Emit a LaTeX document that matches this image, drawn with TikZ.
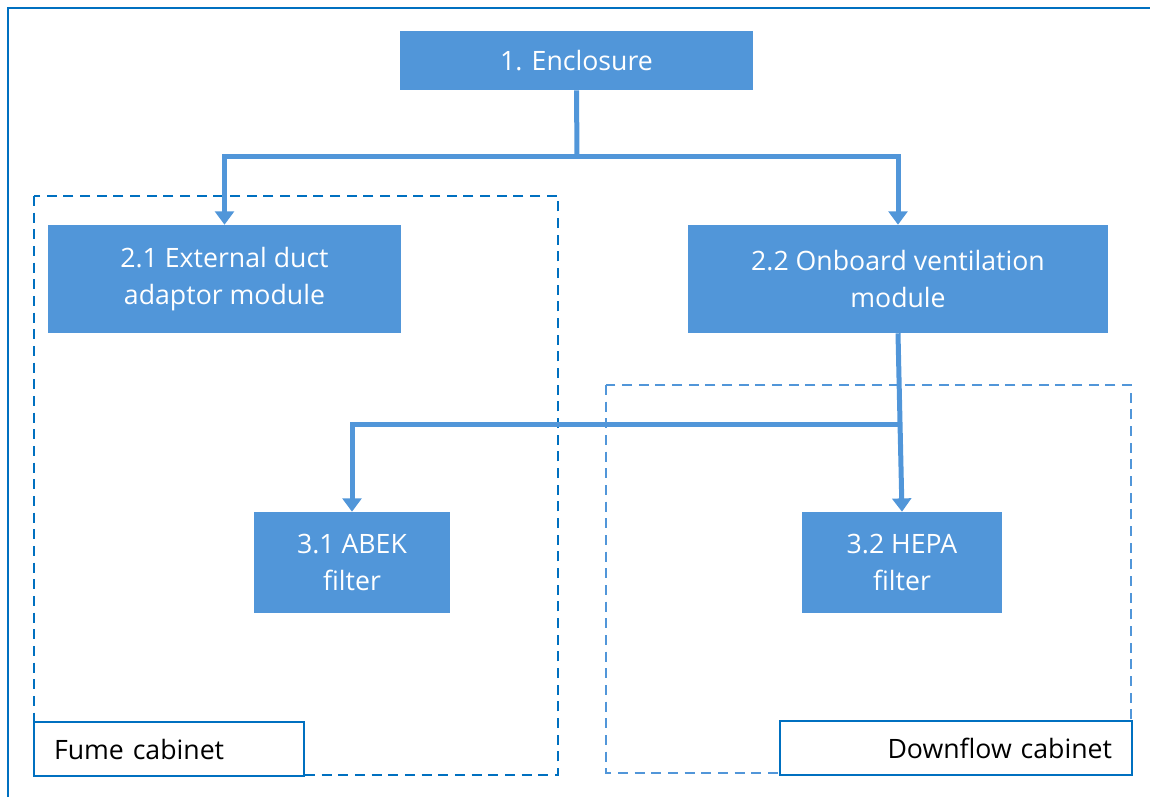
\documentclass[tikz,border=0pt]{standalone}
\usepackage{fontspec}
\setmainfont{Open Sans}
\usetikzlibrary{arrows.meta}
\definecolor{boxblue}{RGB}{81,150,217}
\definecolor{edgeblue}{RGB}{0,112,192}
\begin{document}
\begin{tikzpicture}[x=0.75pt, y=-0.75pt,
    font=\fontsize{20}{28}\selectfont,
    block/.style={fill=boxblue, text=white, align=center, inner sep=0pt},
    link/.style={boxblue, line width=3.75pt},
    linkarrow/.style={link, -{Triangle[length=10pt, width=14pt]}},
    area/.style={dash pattern=on 7.5pt off 5pt, line width=2.1pt},
    tag/.style={draw=edgeblue, fill=white, line width=0.8pt, minimum height=40.5pt, inner ysep=0pt, inner xsep=15pt}]
    \useasboundingbox (0,0) rectangle (1150,797);
    \draw [edgeblue, line width=1.6pt] (8,797) |- (1150,8);
    % cabinets
    \draw [area, edgeblue] (34,196) rectangle (558,775);
    \draw [area, boxblue, line width=1.7pt] (606,385) rectangle (1131,773);
    % modules
    \node [block, minimum width=264.75pt, minimum height=44.25pt] (enc) at (576.5,60.5) {1. Enclosure};
    \node [block, minimum width=264.75pt, minimum height=81pt] (ext) at (224.5,279) {2.1 External duct\\adaptor module};
    \node [block, minimum width=315pt, minimum height=81pt] (onb) at (898,279) {2.2 Onboard ventilation\\module};
    \node [block, minimum width=147pt, minimum height=75.75pt] (abek) at (352,562.5) {3.1 ABEK\\filter};
    \node [block, minimum width=150pt, minimum height=75.75pt] (hepa) at (902,562.5) {3.2 HEPA\\filter};
    % connectors
    \coordinate (split1) at (577,156);
    \coordinate (split2) at (900,424);
    \draw [link] (enc.south) -- (split1);
    \draw [linkarrow] (split1) -| (ext.north);
    \draw [linkarrow] (split1) -| (onb.north);
    \draw [linkarrow] (onb.south) -- (hepa.north);
    \draw [linkarrow] (split2) -| (abek.north);
    % labels
    \node [tag, text width=172.5pt, align=left] (fume) at (169,749) {Fume cabinet};
    \node [tag, text width=234pt, align=right] (down) at (956,748) {Downflow cabinet};
\end{tikzpicture}
\end{document}
